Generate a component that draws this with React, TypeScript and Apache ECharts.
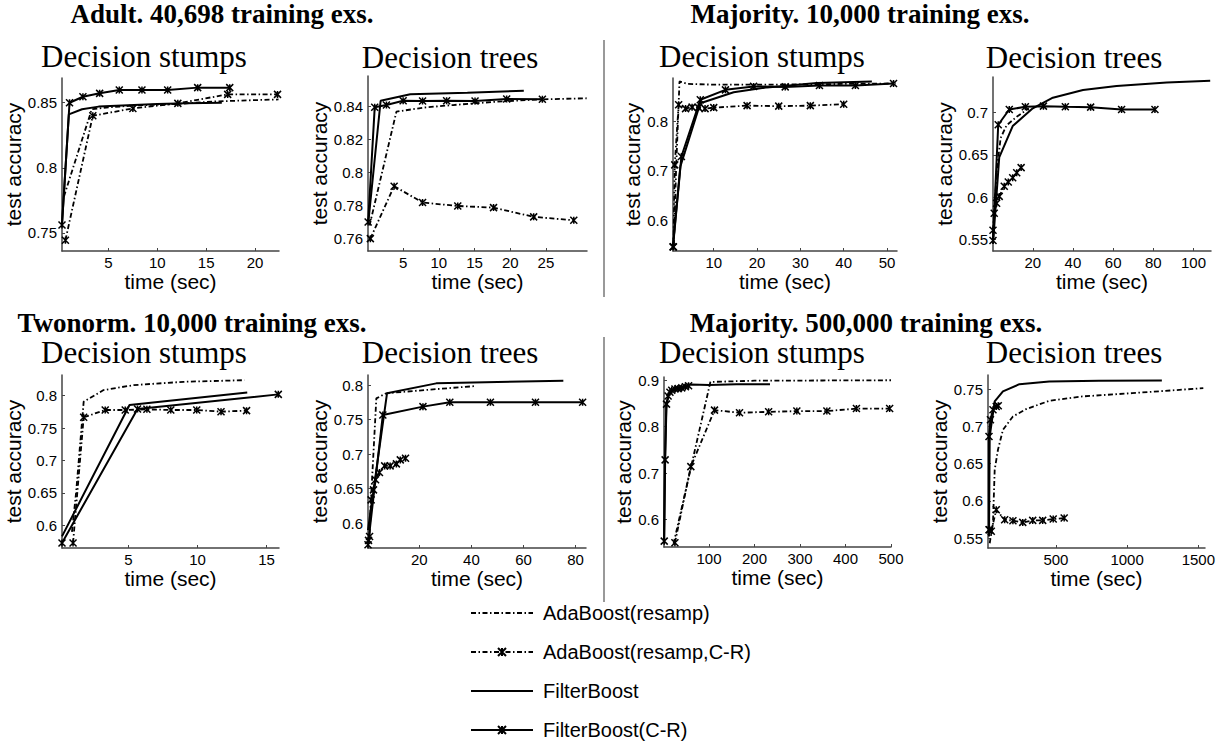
import React, { useEffect, useRef } from "react";
import * as echarts from "echarts";

// ---------- legend names ----------
const seriesNames = ["AdaBoost(resamp)", "AdaBoost(resamp,C-R)", "FilterBoost", "FilterBoost(C-R)"];

// ---------- titles ----------
const groupTitles = [
  "Adult. 40,698 training exs.",
  "Majority. 10,000 training exs.",
  "Twonorm. 10,000 training exs.",
  "Majority. 500,000 training exs.",
];
const panelTitles = ["Decision stumps", "Decision trees", "Decision stumps", "Decision trees", "Decision stumps", "Decision trees", "Decision stumps", "Decision trees"];

// ---------- tick labels ----------
const adultStumpsXTicks = [5, 10, 15, 20];
const adultStumpsYTicks = [0.75, 0.8, 0.85];
const adultTreesXTicks = [5, 10, 15, 20, 25];
const adultTreesYTicks = [0.76, 0.78, 0.8, 0.82, 0.84];
const maj10StumpsXTicks = [10, 20, 30, 40, 50];
const maj10StumpsYTicks = [0.6, 0.7, 0.8];
const maj10TreesXTicks = [20, 40, 60, 80, 100];
const maj10TreesYTicks = [0.55, 0.6, 0.65, 0.7];
const twoStumpsXTicks = [5, 10, 15];
const twoStumpsYTicks = [0.6, 0.65, 0.7, 0.75, 0.8];
const twoTreesXTicks = [20, 40, 60, 80];
const twoTreesYTicks = [0.6, 0.65, 0.7, 0.75, 0.8];
const maj500StumpsXTicks = [100, 200, 300, 400, 500];
const maj500StumpsYTicks = [0.6, 0.7, 0.8, 0.9];
const maj500TreesXTicks = [500, 1000, 1500];
const maj500TreesYTicks = [0.55, 0.6, 0.65, 0.7, 0.75];

// ---------- data: [time (sec), test accuracy] ----------
// Adult, decision stumps
const adultStumpsAda = [[0.45, 0.778], [3.3, 0.845], [5, 0.8465], [8, 0.848], [12, 0.849], [16, 0.851], [20, 0.852], [22.4, 0.8525]];
const adultStumpsAdaCR = [[0.6, 0.7443], [3.4, 0.84], [7.5, 0.8456], [12.1, 0.8495], [17.2, 0.8564], [22.3, 0.8564]];
const adultStumpsFB = [[0.25, 0.757], [0.95, 0.841], [2.3, 0.845], [4, 0.847], [7, 0.848], [10, 0.849], [13, 0.8495], [16.6, 0.85]];
const adultStumpsFBCR = [[0.25, 0.756], [1.02, 0.85], [2.39, 0.8546], [4.1, 0.8572], [6.11, 0.8598], [8.43, 0.8598], [11.06, 0.8598], [14.13, 0.8616], [17.41, 0.8616]];
// Adult, decision trees
const adultTreesAda = [[0.3, 0.768], [4.06, 0.837], [8, 0.8395], [12, 0.841], [18, 0.843], [24, 0.8444], [30.7, 0.8451]];
const adultTreesAdaCR = [[0.41, 0.76], [3.74, 0.7918], [7.72, 0.7819], [12.65, 0.7798], [17.66, 0.7788], [23.28, 0.7732], [28.9, 0.7711]];
const adultTreesFB = [[0.1, 0.769], [1.85, 0.8436], [6.0, 0.8475], [14, 0.8485], [21.9, 0.8497]];
const adultTreesFBCR = [[0.1, 0.7701], [1.02, 0.8396], [2.66, 0.841], [5.0, 0.8436], [7.72, 0.8434], [11.09, 0.8436], [15.07, 0.8434], [19.5, 0.8447], [24.5, 0.8445]];
// Majority 10,000, decision stumps
const maj10StumpsAda = [[0.8, 0.55], [1.3, 0.7], [2.1, 0.881], [4, 0.876], [10, 0.8745], [20, 0.8745], [30, 0.875], [40, 0.876], [52, 0.877]];
const maj10StumpsAdaCR = [[0.7, 0.546], [1.0, 0.712], [1.9, 0.834], [3.5, 0.826], [5, 0.829], [6.5, 0.828], [8, 0.826], [10, 0.828], [17.7, 0.832], [25, 0.831], [32.3, 0.832], [40, 0.835]];
const maj10StumpsFB = [[0.6, 0.55], [2.3, 0.709], [6.9, 0.837], [14.6, 0.859], [22.3, 0.869], [33.8, 0.878], [46.5, 0.881]];
const maj10StumpsFBCR = [[0.6, 0.546], [2.54, 0.729], [6.9, 0.844], [12.7, 0.864], [19.2, 0.871], [26.5, 0.87], [34.4, 0.873], [42.7, 0.873], [51.5, 0.877]];
// Majority 10,000, decision trees
const maj10TreesAda = [[0.3, 0.553], [2, 0.63], [4, 0.67], [7, 0.685], [12, 0.695], [18, 0.705]];
const maj10TreesAdaCR = [[0.2, 0.561], [0.8, 0.581], [2, 0.593], [3.3, 0.601], [5.8, 0.613], [7.8, 0.618], [10, 0.623], [12, 0.629], [14.2, 0.635]];
const maj10TreesFB = [[0.2, 0.545], [3.3, 0.647], [10, 0.684], [20, 0.705], [30, 0.7176], [45, 0.7267], [61.7, 0.7315], [86.7, 0.7355], [108.3, 0.7375]];
const maj10TreesFBCR = [[0.2, 0.549], [2.8, 0.6856], [8.3, 0.7036], [16.3, 0.7068], [25.3, 0.7076], [36.2, 0.7068], [48.8, 0.7064], [64.2, 0.7036], [80.8, 0.7036]];
// Twonorm, decision stumps
const twoStumpsAda = [[0.9, 0.59], [1.2, 0.65], [1.75, 0.7908], [3.19, 0.8087], [5.36, 0.8164], [8.98, 0.8215], [13.4, 0.824]];
const twoStumpsAdaCR = [[0.98, 0.5728], [1.75, 0.7667], [3.31, 0.778], [4.76, 0.778], [6.33, 0.779], [8.06, 0.778], [9.94, 0.778], [11.7, 0.7754], [13.55, 0.777]];
const twoStumpsFB = [[0.18, 0.583], [5.07, 0.7856], [13.6, 0.805]];
const twoStumpsFBCR = [[0.18, 0.5728], [5.65, 0.7795], [15.85, 0.8021]];
// Twonorm, decision trees
const twoTreesAda = [[0.9, 0.595], [3.5, 0.7807], [7.3, 0.788], [25.3, 0.7937], [41.9, 0.7986]];
const twoTreesAdaCR = [[0.3, 0.5687], [0.9, 0.5807], [1.5, 0.6337], [2.4, 0.6482], [3.2, 0.6627], [4.7, 0.6733], [6.7, 0.6829], [8.8, 0.6829], [11.2, 0.6858], [12.7, 0.6916], [14.7, 0.694]];
const twoTreesFB = [[0.3, 0.59], [7.6, 0.788], [26.5, 0.8024], [75.3, 0.8063]];
const twoTreesFBCR = [[0.5, 0.575], [6.0, 0.7566], [21.4, 0.7687], [31.7, 0.775], [47.3, 0.775], [64.6, 0.775], [82.7, 0.775]];
// Majority 500,000, decision stumps
const maj500StumpsAda = [[22, 0.548], [103, 0.8964], [200, 0.899], [350, 0.8995], [500, 0.9]];
const maj500StumpsAdaCR = [[25, 0.55], [60, 0.714], [112, 0.8357], [167, 0.83], [231, 0.832], [293, 0.8336], [359, 0.8336], [424, 0.839], [497, 0.839]];
const maj500StumpsFB = [[1, 0.554], [3, 0.72], [6, 0.845], [12, 0.872], [25, 0.882], [60, 0.891], [100, 0.89], [160, 0.8915], [234, 0.8915]];
const maj500StumpsFBCR = [[1.5, 0.5536], [3.5, 0.7286], [6.5, 0.8486], [10, 0.866], [14, 0.874], [18, 0.8786], [25, 0.881], [32, 0.882], [40, 0.8836], [48, 0.886], [55, 0.888]];
// Majority 500,000, decision trees
const maj500TreesAda = [[35, 0.543], [58, 0.57], [70, 0.6417], [93, 0.6686], [128, 0.6954], [198, 0.7133], [291, 0.7232], [453, 0.7343], [686, 0.7402], [1035, 0.7446], [1535, 0.7513]];
const maj500TreesAdaCR = [[35, 0.561], [46, 0.559], [81, 0.588], [140, 0.5746], [198, 0.5733], [267, 0.571], [337, 0.5737], [407, 0.5737], [481, 0.5755], [558, 0.5768]];
const maj500TreesFB = [[30, 0.552], [35, 0.6865], [70, 0.7335], [128, 0.7469], [244, 0.7567], [453, 0.7603], [802, 0.7612], [1244, 0.7616]];
const maj500TreesFBCR = [[30, 0.561], [30, 0.6865], [40, 0.7088], [58, 0.7223], [81, 0.7267], [95, 0.7276]];

// ---------- layout ----------
const SANS = "'Liberation Sans', Arial, Helvetica, sans-serif";
const SERIF = "'Liberation Serif', 'Times New Roman', serif";
const MARK = "path://M0,0L8,8M8,0L0,8M4,0L4,8";
const DASH = [5, 2.5, 1.5, 2.5];

const panels = [
  { rect: [62, 78, 217, 173], x: [0.25, 22.45], y: [0.736, 0.869], xt: adultStumpsXTicks, yt: adultStumpsYTicks, gap: 35, data: [adultStumpsAda, adultStumpsAdaCR, adultStumpsFB, adultStumpsFBCR], tc: [144, 41] },
  { rect: [368, 76, 219, 175], x: [0.08, 30.75], y: [0.7525, 0.8586], xt: adultTreesXTicks, yt: adultTreesYTicks, gap: 33, data: [adultTreesAda, adultTreesAdaCR, adultTreesFB, adultTreesFBCR], tc: [450, 42] },
  { rect: [673, 78, 224, 173], x: [0.6, 52.3], y: [0.5376, 0.888], xt: maj10StumpsXTicks, yt: maj10StumpsYTicks, gap: 25, data: [maj10StumpsAda, maj10StumpsAdaCR, maj10StumpsFB, maj10StumpsFBCR], tc: [762, 41] },
  { rect: [993, 77, 218, 174], x: [0.2, 108.7], y: [0.5365, 0.742], xt: maj10TreesXTicks, yt: maj10TreesYTicks, gap: 35, data: [maj10TreesAda, maj10TreesAdaCR, maj10TreesFB, maj10TreesFBCR], tc: [1074, 42] },
  { rect: [62, 375, 217, 173], x: [0.18, 15.9], y: [0.565, 0.832], xt: twoStumpsXTicks, yt: twoStumpsYTicks, gap: 34, data: [twoStumpsAda, twoStumpsAdaCR, twoStumpsFB, twoStumpsFBCR], tc: [144, 337] },
  { rect: [368, 375, 218, 173], x: [0.3, 84], y: [0.564, 0.8145], xt: twoTreesXTicks, yt: twoTreesYTicks, gap: 34, data: [twoTreesAda, twoTreesAdaCR, twoTreesFB, twoTreesFBCR], tc: [450, 337] },
  { rect: [664, 377, 227, 170], x: [1, 500], y: [0.541, 0.907], xt: maj500StumpsXTicks, yt: maj500StumpsYTicks, gap: 30, data: [maj500StumpsAda, maj500StumpsAdaCR, maj500StumpsFB, maj500StumpsFBCR], tc: [762, 337] },
  { rect: [988, 375, 218, 173], x: [23, 1547], y: [0.5366, 0.769], xt: maj500TreesXTicks, yt: maj500TreesYTicks, gap: 32, data: [maj500TreesAda, maj500TreesAdaCR, maj500TreesFB, maj500TreesFBCR], tc: [1074, 337] },
];
const groupTitlePos = [[222, 0], [860, 0], [192, 309], [866, 309]];

const seriesStyles = [
  { lineStyle: { type: DASH, width: 1.8, color: "#000" }, symbol: "none" },
  { lineStyle: { type: DASH, width: 1.8, color: "#000" }, symbol: MARK },
  { lineStyle: { type: "solid", width: 2, color: "#000" }, symbol: "none" },
  { lineStyle: { type: "solid", width: 2, color: "#000" }, symbol: MARK },
];

const fmt = (v: number) => String(v);

function buildOption() {
  const axisColor = "#444";
  const grid: any[] = [];
  const xAxis: any[] = [];
  const yAxis: any[] = [];
  const series: any[] = [];
  panels.forEach((p, i) => {
    grid.push({ left: p.rect[0], top: p.rect[1], width: p.rect[2], height: p.rect[3], containLabel: false });
    xAxis.push({
      type: "value", gridIndex: i, min: p.x[0], max: p.x[1],
      axisLine: { show: true, lineStyle: { color: axisColor, width: 1.5 } },
      axisTick: { show: true, inside: true, length: 3, customValues: p.xt, lineStyle: { color: axisColor } },
      axisLabel: { customValues: p.xt, formatter: fmt, fontSize: 15, color: "#000", margin: 4, fontFamily: SANS },
      splitLine: { show: false },
      name: "time (sec)", nameLocation: "middle", nameGap: 9,
      nameTextStyle: { fontSize: 21, color: "#000", fontFamily: SANS },
    });
    yAxis.push({
      type: "value", gridIndex: i, min: p.y[0], max: p.y[1],
      axisLine: { show: true, lineStyle: { color: axisColor, width: 1.5 } },
      axisTick: { show: true, inside: true, length: 3, customValues: p.yt, lineStyle: { color: axisColor } },
      axisLabel: { customValues: p.yt, formatter: fmt, fontSize: 15, color: "#000", margin: 5, fontFamily: SANS },
      splitLine: { show: false },
      name: "test accuracy", nameLocation: "middle", nameGap: p.gap,
      nameTextStyle: { fontSize: 21, color: "#000", fontFamily: SANS },
    });
    p.data.forEach((d, k) => {
      const st = seriesStyles[k];
      series.push({
        type: "line", name: seriesNames[k], xAxisIndex: i, yAxisIndex: i,
        data: d, symbol: st.symbol, symbolSize: 7, showSymbol: st.symbol !== "none",
        lineStyle: st.lineStyle,
        itemStyle: { color: "#000", borderColor: "#000", borderWidth: 1.5 },
        clip: false, silent: true, z: k >= 2 ? 3 : 2,
      });
    });
  });

  const title: any[] = [];
  groupTitles.forEach((t, i) => {
    title.push({
      text: t, left: groupTitlePos[i][0], top: groupTitlePos[i][1], textAlign: "center", padding: 0,
      textStyle: { fontFamily: SERIF, fontWeight: "bold", fontSize: 27, color: "#000" },
    });
  });
  panels.forEach((p, i) => {
    title.push({
      text: panelTitles[i], left: p.tc[0], top: p.tc[1], textAlign: "center", padding: 0,
      textStyle: { fontFamily: SERIF, fontWeight: "normal", fontSize: 31, color: "#000" },
    });
  });

  return {
    animation: false,
    backgroundColor: "#fff",
    title,
    grid, xAxis, yAxis, series,
    legend: {
      orient: "vertical", left: 470, top: 603, padding: 0,
      itemWidth: 62, itemHeight: 10, itemGap: 19, selectedMode: false,
      textStyle: { fontSize: 20, fontFamily: SANS, color: "#000", lineHeight: 20, padding: [0, 0, 0, 5] },
      data: [
        { name: seriesNames[0], itemStyle: { opacity: 0 } },
        { name: seriesNames[1] },
        { name: seriesNames[2], itemStyle: { opacity: 0 } },
        { name: seriesNames[3] },
      ],
    },
    graphic: [
      { type: "line", shape: { x1: 604, y1: 40, x2: 604, y2: 297 }, style: { stroke: "#777", lineWidth: 1.5 } },
      { type: "line", shape: { x1: 604, y1: 337, x2: 604, y2: 602 }, style: { stroke: "#777", lineWidth: 1.5 } },
    ],
  };
}

export default function App() {
  const ref = useRef<HTMLDivElement>(null);
  useEffect(() => {
    if (!ref.current) return;
    const chart = echarts.init(ref.current, null, { renderer: "svg" });
    chart.setOption(buildOption() as any);
    return () => chart.dispose();
  }, []);
  return <div ref={ref} style={{ position: "fixed", left: 0, top: 0, width: 1218, height: 743, background: "#fff" }} />;
}
